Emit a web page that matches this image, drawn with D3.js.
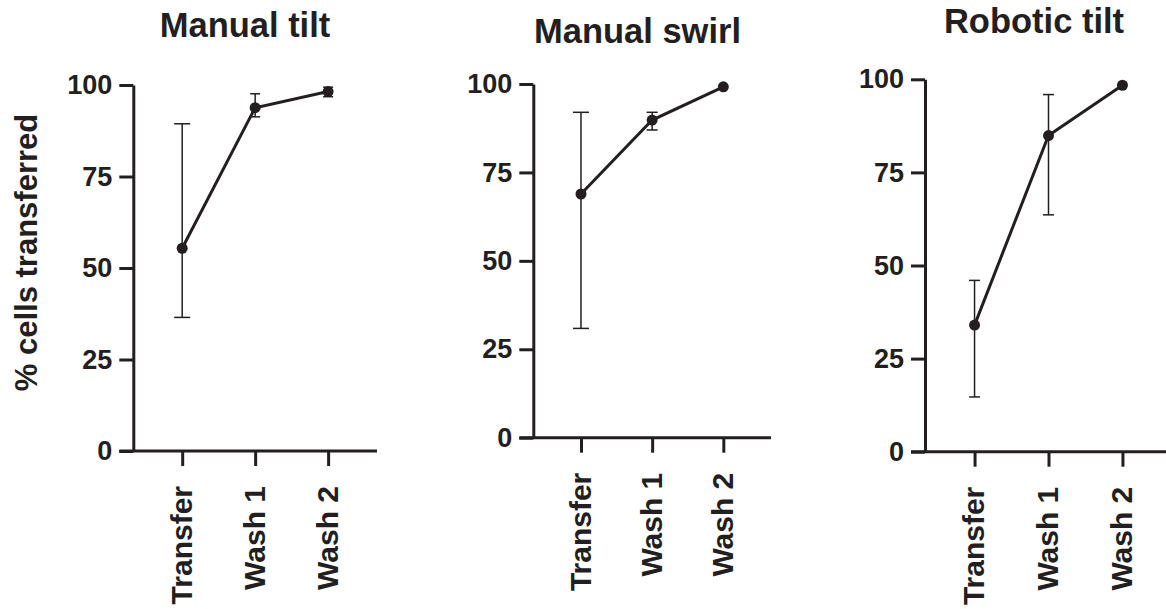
<!DOCTYPE html>
<html><head><meta charset="utf-8">
<script src="https://cdn.jsdelivr.net/npm/d3@7"></script>
<style>body{margin:0;background:#fff}svg{display:block}</style>
</head><body><svg id="c" width="1166" height="609"></svg>
<script>
const categories = ["Transfer", "Wash 1", "Wash 2"];
const panelTitles = ["Manual tilt", "Manual swirl", "Robotic tilt"];
const meanManualTilt = [55.4, 93.8, 98.2];
const lowManualTilt = [36.5, 91.3, 96.8];
const highManualTilt = [89.4, 97.6, 99.4];
const meanManualSwirl = [68.9, 89.8, 99.2];
const lowManualSwirl = [30.9, 87.0, 98.6];
const highManualSwirl = [92.0, 92.0, 99.7];
const meanRoboticTilt = [34.0, 84.9, 98.4];
const lowRoboticTilt = [14.7, 63.6, 97.6];
const highRoboticTilt = [46.0, 95.9, 99.2];
const yTicks = [0, 25, 50, 75, 100];
const yLabel = "% cells transferred";

// layout (pixels) per panel
const layout = [
  {x0: 133.3, x1: 377, yTop: 85, yBot: 451, titleX: 245, titleY: 37, capW: [8, 5, 5]},
  {x0: 533.3, x1: 771, yTop: 84, yBot: 437.7, titleX: 637.5, titleY: 43, capW: [8, 5.5, 4]},
  {x0: 925, x1: 1172, yTop: 79.3, yBot: 451.7, titleX: 1034, titleY: 33, capW: [5.5, 5.5, 4]}
];
const series = [
  {mean: meanManualTilt, low: lowManualTilt, high: highManualTilt},
  {mean: meanManualSwirl, low: lowManualSwirl, high: highManualSwirl},
  {mean: meanRoboticTilt, low: lowRoboticTilt, high: highRoboticTilt}
];
const ink = "#231f20";
const font = "'Liberation Sans', Arial, sans-serif";
const svg = d3.select("#c");

svg.append("text").attr("transform", "translate(36.5,252.5) rotate(-90)")
  .attr("text-anchor", "middle").attr("font-family", font).attr("font-weight", "bold")
  .attr("font-size", 31).attr("fill", ink).text(yLabel);

series.forEach((s, i) => {
  const L = layout[i];
  const g = svg.append("g");
  const x = d3.scalePoint().domain(categories).range([L.x0, L.x1]).padding(0.67);
  const y = d3.scaleLinear().domain([0, 100]).range([L.yBot, L.yTop]);

  g.append("text").attr("x", L.titleX).attr("y", L.titleY).attr("text-anchor", "middle")
    .attr("font-family", font).attr("font-weight", "bold").attr("font-size", 34.5)
    .attr("fill", ink).text(panelTitles[i]);

  const ya = g.append("g").attr("transform", `translate(${L.x0},0)`)
    .call(d3.axisLeft(y).tickValues(yTicks).tickSize(14).tickSizeOuter(0).tickPadding(7));
  ya.select(".domain").attr("stroke", ink).attr("stroke-width", 3);
  ya.selectAll(".tick line").attr("stroke", ink).attr("stroke-width", 3);
  ya.selectAll(".tick text").attr("font-family", font).attr("font-weight", "bold")
    .attr("font-size", 27).attr("fill", ink);

  const xa = g.append("g").attr("transform", `translate(0,${L.yBot})`)
    .call(d3.axisBottom(x).tickSize(15).tickSizeOuter(0));
  xa.select(".domain").attr("stroke", ink).attr("stroke-width", 3).attr("d", `M${L.x0 - 14},0H${L.x1}`);
  xa.selectAll(".tick line").attr("stroke", ink).attr("stroke-width", 3);
  xa.selectAll(".tick text").attr("font-family", font).attr("font-weight", "bold")
    .attr("font-size", 30).attr("fill", ink)
    .attr("text-anchor", "end").attr("transform", "rotate(-90)")
    .attr("x", -35).attr("y", 0).attr("dy", "0.31em");

  const idx = d3.range(categories.length);
  // error bars
  const eb = g.append("g").attr("stroke", ink).attr("stroke-width", 1.5).attr("fill", "none");
  idx.forEach(j => {
    const cx = x(categories[j]);
    eb.append("line").attr("x1", cx).attr("x2", cx).attr("y1", y(s.low[j])).attr("y2", y(s.high[j]));
    [s.low[j], s.high[j]].forEach(v => {
      eb.append("line").attr("x1", cx - L.capW[j]).attr("x2", cx + L.capW[j]).attr("y1", y(v)).attr("y2", y(v));
    });
  });
  // line
  g.append("path").datum(idx).attr("fill", "none").attr("stroke", ink).attr("stroke-width", 3)
    .attr("d", d3.line().x(j => x(categories[j])).y(j => y(s.mean[j])));
  g.selectAll("circle.pt").data(idx).join("circle").attr("class", "pt")
    .attr("cx", j => x(categories[j])).attr("cy", j => y(s.mean[j])).attr("r", 5.5).attr("fill", ink);
});
</script>
</body></html>
